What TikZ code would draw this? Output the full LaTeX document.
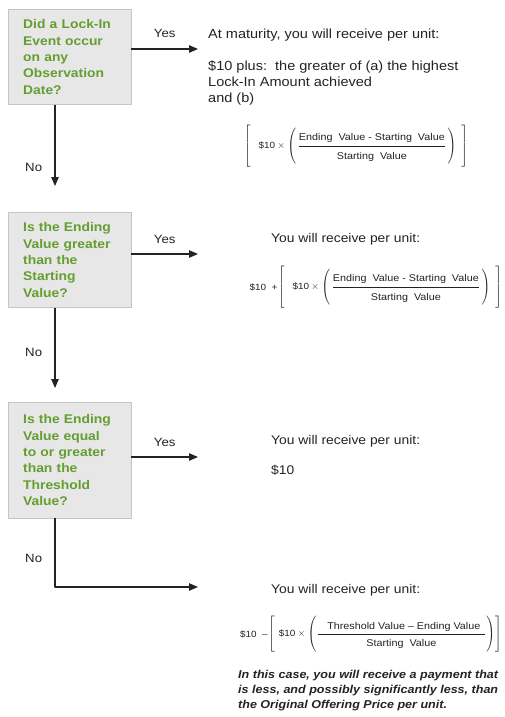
\documentclass[tikz,border=0pt]{standalone}
\usepackage{amsmath}
\usepackage{fontspec}
\setmainfont{Liberation Sans}[FakeStretch=1.1]
\usetikzlibrary{arrows.meta}
\definecolor{qgreen}{RGB}{100,158,48}
\definecolor{qfill}{RGB}{231,231,231}
\definecolor{qline}{RGB}{196,196,196}
\definecolor{ink}{RGB}{35,35,35}
\delimiterfactor=1000
\delimitershortfall=0pt
\newcommand{\tallbrk}{\rule[-18.5pt]{0pt}{42pt}}
\newcommand{\tallpar}{\rule[-15.5pt]{0pt}{36pt}}
\begin{document}
\begin{tikzpicture}[x=1pt, y=-1pt, line join=round, >={Triangle[length=9pt,width=7.5pt]},
  question/.style={draw=qline, fill=qfill, text=qgreen, font=\bfseries\fontsize{12.6}{16.3}\selectfont,
    text width=93pt, inner xsep=15pt, inner ysep=10.5pt, align=left, anchor=north west},
  flow/.style={->, draw=ink, line width=1.1pt},
  lbl/.style={font=\fontsize{12}{14}\selectfont, text=ink},
  body/.style={font=\fontsize{13.2}{16}\selectfont, text=ink, anchor=base west, inner sep=0pt, align=left},
  small/.style={font=\fontsize{12.6}{16}\selectfont, text=ink, anchor=base west, inner sep=0pt},
  payoff/.style={font=\fontsize{9.8}{12}\selectfont, text=ink, inner sep=0pt},
  note/.style={font=\bfseries\itshape\fontsize{11.4}{15}\selectfont, text=ink, anchor=base west, inner sep=0pt, align=left}]
\useasboundingbox (0,0) rectangle (504,717);

% questions
\node[question] (q1) at (8,9) {Did a Lock-In\\Event occur\\on any\\Observation\\Date?};
\node[question] (q2) at (8,212) {Is the Ending\\Value greater\\than the\\Starting\\Value?};
\node[question, minimum height=116pt] (q3) at (8,402) {Is the Ending\\Value equal\\to or greater\\than the\\Threshold\\Value?};

% answers (multi-line nodes sit on their last baseline)
\node[body] (a1) at (208,38) {At maturity, you will receive per unit:};
\node[body] (a1b) at (208,102) {\$10 plus:\ \ the greater of (a) the highest\\Lock-In Amount achieved\\and (b)};
\node[payoff] (f1) at (356,146) {$\left[\hspace{8pt}\tallbrk\text{\fontsize{9}{10}\selectfont\$10}\times
  \left(\tallpar\,\dfrac{\text{\rule[-4pt]{0pt}{4pt}Ending\ \ Value\ - Starting\ \ Value}}{\text{\rule{0pt}{12.5pt}Starting\ \ Value}}\,\right)\hspace{5pt}\right]$};

\node[small] (a2) at (271,242) {You will receive per unit:};
\node[payoff] (f2) at (390,287) {$\left[\hspace{8pt}\tallbrk\text{\fontsize{9}{10}\selectfont\$10}\times
  \left(\tallpar\,\dfrac{\text{\rule[-4pt]{0pt}{4pt}Ending\ \ Value\ - Starting\ \ Value}}{\text{\rule{0pt}{12.5pt}Starting\ \ Value}}\,\right)\hspace{5pt}\right]$};
\node[payoff, anchor=east] (s2) at (f2.west) {\fontsize{9}{10}\selectfont\$10\ \ +\ };

\node[small] (a3) at (271,444) {You will receive per unit:};
\node[small] (a3b) at (271,474) {\$10};

\node[small] (a4) at (271,593) {You will receive per unit:};
\node[payoff] (f4) at (385,634) {$\left[\hspace{4pt}\rule[-14.5pt]{0pt}{34pt}\text{\fontsize{9}{10}\selectfont\$10}\times
  \left(\rule[-13.5pt]{0pt}{32pt}\dfrac{\text{\rule[-3pt]{0pt}{3pt}\quad Threshold Value -- Ending Value\enspace}}{\text{\rule{0pt}{11pt}Starting\ \ Value}}\right)\right]$};
\node[payoff, anchor=east] (s4) at (f4.west) {\fontsize{9}{10}\selectfont\$10\ \ --\ };
\node[note] (n4) at (238,708) {In this case, you will receive a payment that\\is less, and possibly significantly less, than\\the Original Offering Price per unit.};

% connectors
\coordinate (y1) at (198,49);
\coordinate (y2) at (198,254);
\coordinate (y3) at (198,457);
\coordinate (y4) at (198,587);
\draw[flow] (q1.east |- y1) -- node[lbl, above=7pt] {Yes} (y1);
\draw[flow] (q2.east |- y2) -- node[lbl, above=7pt] {Yes} (y2);
\draw[flow] (q3.east |- y3) -- node[lbl, above=7pt] {Yes} (y3);
\draw[flow] ([xshift=47pt]q1.south west) -- node[lbl, pos=0.77, left=9pt] {No} ([xshift=47pt, yshift=26pt]q2.north west);
\draw[flow] ([xshift=47pt]q2.south west) -- node[lbl, pos=0.55, left=9pt] {No} ([xshift=47pt, yshift=14pt]q3.north west);
\draw[flow] ([xshift=47pt]q3.south west) |- node[lbl, pos=0.29, left=9pt] {No} (y4);
\end{tikzpicture}
\end{document}
